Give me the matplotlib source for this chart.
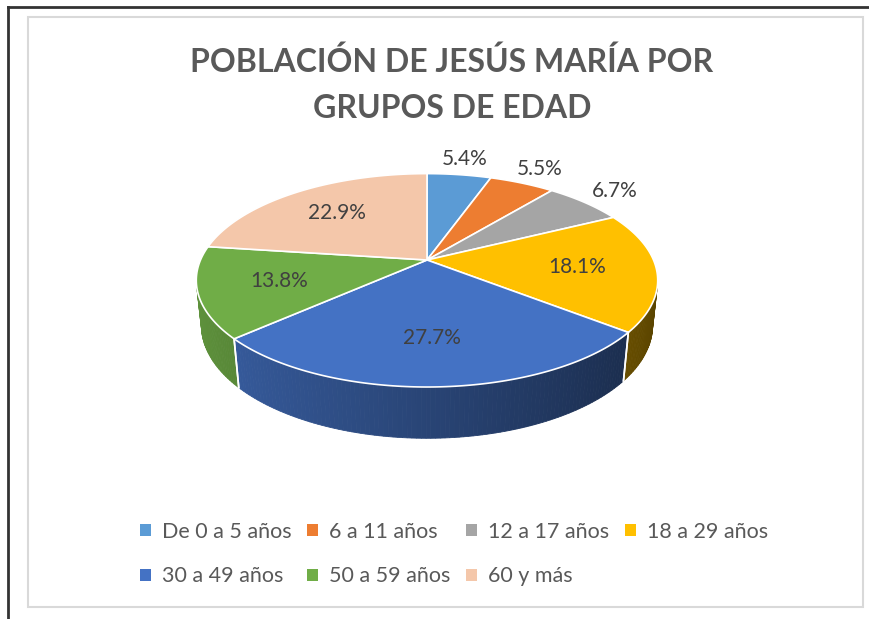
import numpy as np
import matplotlib.pyplot as plt
from matplotlib.patches import Polygon, Patch
from matplotlib.lines import Line2D

plt.rcParams['font.family'] = ['Lato', 'DejaVu Sans']

# data
groups = ['De 0 a 5 años', '6 a 11 años', '12 a 17 años', '18 a 29 años',
          '30 a 49 años', '50 a 59 años', '60 y más']
shares = [5.4, 5.5, 6.7, 18.1, 27.7, 13.8, 22.9]
colors = ['#5B9BD5', '#ED7D31', '#A5A5A5', '#FFC000', '#4472C4', '#70AD47', '#F4C7AA']
title = 'POBLACIÓN DE JESÚS MARÍA POR\nGRUPOS DE EDAD'

# view settings for the fake 3d pie
elev = np.radians(27)
sa, ca = np.sin(elev), np.cos(elev)
dist = 4.68
thick = 0.225
K = 1060.0
cx, cy = 427, 260
text_col = '#595959'


def proj(X, Y, Z):
    depth = dist + Y * ca - Z * sa
    u = X / depth
    v = (Y * sa + Z * ca) / depth
    return cx + K * u, cy - K * v


def shade(rgb, f):
    return tuple(min(1, c * f) for c in rgb)


fig = plt.figure(figsize=(8.7, 6.19), dpi=100)
ax = fig.add_axes([0, 0, 1, 1])
ax.set_xlim(0, 870)
ax.set_ylim(619, 0)
ax.axis('off')

# frames
ax.add_patch(plt.Rectangle((28, 17), 835, 590, fill=False, ec='#D9D9D9', lw=1.5))
ax.add_line(Line2D([8, 870], [7, 7], color='#333333', lw=2))
ax.add_line(Line2D([8, 8], [7, 619], color='#333333', lw=2))

fracs = np.array(shares) / np.sum(shares)
cum = np.concatenate([[0], np.cumsum(fracs)])
starts = np.pi / 2 - 2 * np.pi * cum[:-1]
ends = np.pi / 2 - 2 * np.pi * cum[1:]

# visible part of the side wall
lim = np.arcsin(1 / (dist * ca))
vis_lo, vis_hi = -np.pi + lim, -lim

# side walls
for a0, a1, col in zip(starts, ends, colors):
    lo, hi = max(a1, vis_lo), min(a0, vis_hi)
    if lo >= hi:
        continue
    rgb = plt.matplotlib.colors.to_rgb(col)
    th = np.linspace(lo, hi, max(3, int(np.degrees(hi - lo)) + 2))
    for t0, t1 in zip(th[:-1], th[1:]):
        tm = (t0 + t1) / 2
        f = 0.6 - 0.25 * np.cos(tm)
        c = shade(rgb, f)
        pts = [proj(np.cos(t0), np.sin(t0), 0), proj(np.cos(t1), np.sin(t1), 0),
               proj(np.cos(t1), np.sin(t1), -thick), proj(np.cos(t0), np.sin(t0), -thick)]
        ax.add_patch(Polygon(pts, closed=True, fc=c, ec=c, lw=0.6))
    for b in (a0, a1):
        if vis_lo < b < vis_hi:
            x0, y0 = proj(np.cos(b), np.sin(b), 0)
            x1, y1 = proj(np.cos(b), np.sin(b), -thick)
            ax.add_line(Line2D([x0, x1], [y0, y1], color='white', lw=1.2))

# top face
for a0, a1, col in zip(starts, ends, colors):
    th = np.linspace(a0, a1, 120)
    pts = [proj(0, 0, 0)] + [proj(np.cos(t), np.sin(t), 0) for t in th]
    ax.add_patch(Polygon(pts, closed=True, fc=col, ec='white', lw=1.2))

# labels
for a0, a1, s in zip(starts, ends, shares):
    tm = (a0 + a1) / 2
    r = 0.66 if s > 10 else 1.22
    x, y = proj(r * np.cos(tm), r * np.sin(tm), 0)
    ax.text(x, y, f'{s:.1f}%', ha='center', va='center', fontsize=15, color='#404040')

ax.text(452, 85, title, ha='center', va='center', fontsize=23, fontweight='bold',
        color=text_col, linespacing=1.7)

# legend filled row by row (matplotlib fills columns)
order = [0, 4, 1, 5, 2, 6, 3]
handles = [Patch(fc=colors[i], ec='none') for i in order]
labels = [groups[i] for i in order]
fig.legend(handles, labels, loc='center', bbox_to_anchor=(454 / 870, 1 - 554 / 619), ncol=4,
           frameon=False, fontsize=15.5, labelcolor=text_col, handlelength=0.5,
           handleheight=0.5, handletextpad=0.5, columnspacing=0.75, labelspacing=1.15)

fig.savefig('out.png', dpi=100, facecolor='white')
